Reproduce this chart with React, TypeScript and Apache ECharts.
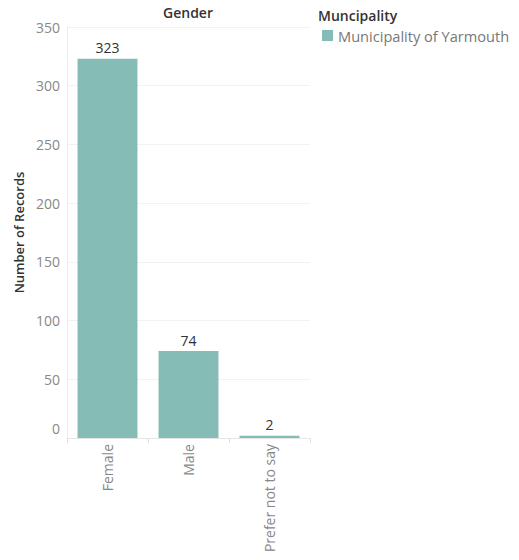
import React, { useEffect, useRef } from "react";
import * as echarts from "echarts";

const categories = ["Female", "Male", "Prefer not to say"];
const records = [323, 74, 2];
const seriesName = "Municipality of Yarmouth";
const legendTitle = "Muncipality";
const panelTitle = "Gender";
const yAxisTitle = "Number of Records";

const FONT = "'Open Sans', sans-serif";

export default function App() {
  const ref = useRef<HTMLDivElement>(null);

  useEffect(() => {
    if (!ref.current) return;
    const chart = echarts.init(ref.current, null, { renderer: "svg" });
    chart.setOption({
      animation: false,
      textStyle: { fontFamily: FONT },
      grid: { left: 67, right: 209, top: 27, bottom: 122 },
      legend: {
        data: [seriesName],
        left: 322,
        top: 28,
        padding: 0,
        icon: "rect",
        itemWidth: 11,
        itemHeight: 11,
        itemGap: 6,
        textStyle: { color: "#777", fontSize: 14.6, fontFamily: FONT },
      },
      graphic: [
        {
          type: "text",
          x: 188,
          y: 12,
          style: {
            text: panelTitle,
            fill: "#333",
            font: `600 14px ${FONT}`,
            textAlign: "center",
            textVerticalAlign: "middle",
          },
        },
        {
          type: "text",
          x: 318,
          y: 15,
          style: {
            text: legendTitle,
            fill: "#333",
            font: `600 14px ${FONT}`,
            textAlign: "left",
            textVerticalAlign: "middle",
          },
        },
      ],
      xAxis: {
        type: "category",
        data: categories,
        axisLine: { lineStyle: { color: "#e6e6e6" } },
        axisTick: { show: true, length: 5, lineStyle: { color: "#e0e0e0" } },
        axisLabel: {
          rotate: 90,
          color: "#888",
          fontSize: 14,
          fontFamily: FONT,
          margin: 6,
        },
      },
      yAxis: {
        type: "value",
        min: 0,
        max: 350,
        interval: 50,
        name: yAxisTitle,
        nameLocation: "middle",
        nameGap: 42,
        nameTextStyle: { color: "#333", fontSize: 13, fontWeight: 600, fontFamily: FONT },
        axisLine: { show: true, lineStyle: { color: "#ececec" } },
        axisTick: { show: false },
        splitLine: { lineStyle: { color: "#f2f2f2" } },
        axisLabel: {
          color: "#888",
          fontSize: 14,
          fontFamily: FONT,
          margin: 7,
          formatter: (v: number) => (v === 0 ? "{z|0}" : String(v)),
          rich: { z: { color: "#888", fontSize: 14, fontFamily: FONT, padding: [0, 0, 20, 0] } },
        },
      },
      series: [
        {
          name: seriesName,
          type: "bar",
          data: records,
          barCategoryGap: "26%",
          itemStyle: { color: "#86bcb6" },
          label: {
            show: true,
            position: "top",
            distance: 4,
            color: "#333",
            fontSize: 14,
            fontFamily: FONT,
          },
        },
      ],
    });
    return () => chart.dispose();
  }, []);

  return <div ref={ref} style={{ width: 519, height: 560, margin: -8 }} />;
}
